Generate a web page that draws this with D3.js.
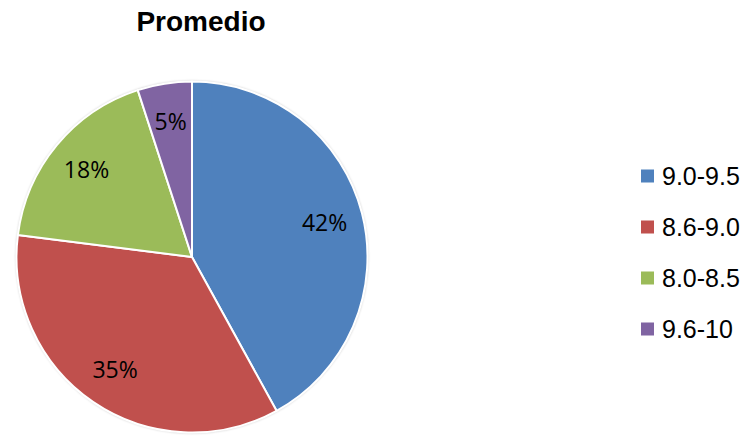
<!DOCTYPE html>
<html>
	<head>
		<meta charset="utf-8">
		<title>Promedio</title>
		<script src="https://d3js.org/d3.v7.min.js"></script>
		<style>
			body { margin: 0; background: #fff; }
			svg { display: block; }
		</style>
	</head>
	<body>
		<svg id="chart" width="756" height="438"></svg>
		<script>
			var categories = ['9.0-9.5', '8.6-9.0', '8.0-8.5', '9.6-10'],
				percents = [42, 35, 18, 5],
				colors = ['#4F81BD', '#C0504D', '#9BBB59', '#8064A2'],
				title = 'Promedio';

			var svg = d3.select('#chart'),
				cx = 192,
				cy = 257,
				radius = 175.5,
				total = d3.sum(percents);

			var defs = svg.append('defs');
			var shadow = defs.append('filter')
				.attr('id', 'shadow')
				.attr('x', '-10%').attr('y', '-10%')
				.attr('width', '120%').attr('height', '120%');
			shadow.append('feGaussianBlur')
				.attr('in', 'SourceAlpha')
				.attr('stdDeviation', 1.5);
			shadow.append('feComponentTransfer')
				.append('feFuncA').attr('type', 'linear').attr('slope', 0.35);
			var merge = shadow.append('feMerge');
			merge.append('feMergeNode');
			merge.append('feMergeNode').attr('in', 'SourceGraphic');

			// title
			svg.append('text')
				.attr('x', 201)
				.attr('y', 31)
				.attr('text-anchor', 'middle')
				.style('font-family', '"Liberation Sans", Arial, sans-serif')
				.style('font-weight', 'bold')
				.style('font-size', '28px')
				.text(title);

			var pie = d3.pie().sort(null).value(function(d) { return d; });
			var arcs = pie(percents);
			var arc = d3.arc().innerRadius(0).outerRadius(radius);
			var labelArc = d3.arc().innerRadius(radius * 0.78).outerRadius(radius * 0.78);

			var g = svg.append('g').attr('transform', 'translate(' + cx + ',' + cy + ')');

			g.append('circle')
				.attr('r', radius)
				.attr('fill', '#fff')
				.attr('filter', 'url(#shadow)');

			g.selectAll('path.slice')
				.data(arcs)
				.enter()
				.append('path')
				.attr('class', 'slice')
				.attr('d', arc)
				.attr('fill', function(d, i) { return colors[i]; })
				.attr('stroke', '#fff')
				.attr('stroke-width', 2)
				.attr('stroke-linejoin', 'round');

			// percentage labels
			g.selectAll('text.pct')
				.data(arcs)
				.enter()
				.append('text')
				.attr('class', 'pct')
				.attr('transform', function(d) { return 'translate(' + labelArc.centroid(d) + ')'; })
				.attr('text-anchor', 'middle')
				.attr('dy', '0.35em')
				.style('font-family', '"Open Sans", "Noto Sans", sans-serif')
				.style('font-size', '23px')
				.style('fill', '#000')
				.text(function(d) { return Math.round(d.value / total * 100) + '%'; });

			// legend
			var legendY = d3.scalePoint()
				.domain(categories)
				.range([176, 329]);

			var legend = svg.selectAll('g.legend')
				.data(categories)
				.enter()
				.append('g')
				.attr('class', 'legend')
				.attr('transform', function(d) { return 'translate(641,' + legendY(d) + ')'; });

			legend.append('rect')
				.attr('x', 0)
				.attr('y', -6.5)
				.attr('width', 13)
				.attr('height', 13)
				.attr('fill', function(d, i) { return colors[i]; });

			legend.append('text')
				.attr('x', 21)
				.attr('y', 9)
				.style('font-family', '"Liberation Sans", Arial, sans-serif')
				.style('font-size', '25px')
				.style('fill', '#000')
				.text(function(d) { return d; });
		</script>
	</body>
</html>
